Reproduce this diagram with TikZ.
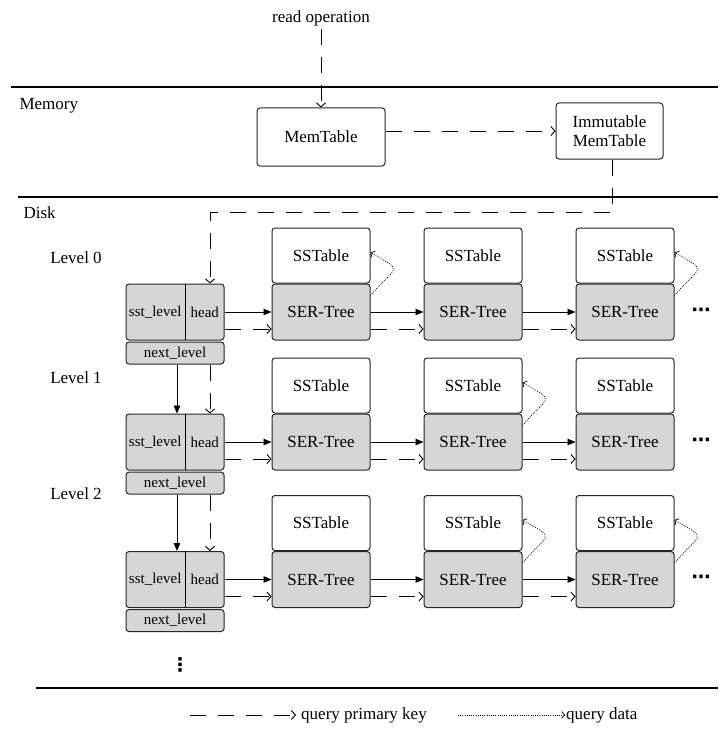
\documentclass[tikz,border=0pt]{standalone}
\usepackage{fontspec}
\setmainfont{Liberation Serif}
\newfontfamily\dotsfont{DejaVu Sans}
\usetikzlibrary{arrows.meta,positioning}

\begin{document}
\begin{tikzpicture}[
  x=1pt,y=-1pt,
  font=\fontsize{17}{19}\selectfont,
  node distance=0pt and 53pt,
  tablebox/.style={rectangle,rounded corners=3pt,draw=black!85,line width=1pt,fill=white,
              minimum width=98pt,minimum height=55pt,inner sep=0pt},
  treebox/.style={tablebox,fill=black!16,minimum height=56pt},
  greybox/.style={rectangle,rounded corners=3pt,draw=black!85,line width=1pt,fill=black!16,
              minimum width=98pt,inner sep=0pt,font=\fontsize{15}{17}\selectfont},
  cell/.style={rectangle,minimum height=56pt,inner sep=0pt,font=\fontsize{15}{17}\selectfont},
  membox/.style={rectangle,rounded corners=3pt,draw=black!85,line width=1pt,align=center,inner sep=0pt},
  dotmark/.style={inner sep=0pt,font=\dotsfont\bfseries\fontsize{19}{19}\selectfont},
  sepline/.style={line width=2.6pt},
  arr/.style={-{Triangle[length=8pt,width=6.5pt]},line width=0.8pt},
  dasharr/.style={-{Straight Barb[length=4pt,width=9pt]},line width=0.9pt,dash pattern=on 16pt off 12pt},
  dotarr/.style={-{Straight Barb[length=3pt,width=7pt]},line width=0.7pt,dash pattern=on 1pt off 1.2pt}
]
  \useasboundingbox (0,0) rectangle (718,733);

  % memory part
  \node (readop) at (321,18) {read operation};
  \draw[sepline] (11,87) -- (718,87);
  \node[anchor=west] (memlbl) at (16,106) {Memory};
  \node[membox,minimum width=128pt,minimum height=58pt] (mem) at (321,137) {MemTable};
  \node[membox,minimum width=107pt,minimum height=56pt] (imm) at (609.5,131) {Immutable\\MemTable};
  \draw[sepline] (18,197) -- (718,197);
  \node[anchor=west] (disklbl) at (20,213) {Disk};

  \draw[dasharr] (readop) -- (mem);
  \draw[dasharr] (mem.east |- imm.west) -- (imm.west);

  % level 0
  \node (lev0) at (76,258) {Level 0};
  \node[tablebox] (sst00) at (321,255.5) {SSTable};
  \node[treebox,below=of sst00] (ser00) {SER-Tree};
  \node[tablebox,right=of sst00] (sst01) {SSTable};
  \node[treebox,below=of sst01] (ser01) {SER-Tree};
  \node[tablebox,right=of sst01] (sst02) {SSTable};
  \node[treebox,below=of sst02] (ser02) {SER-Tree};
  \node[dotmark,right=17pt of ser02] (more0) {⋯};
  \node[greybox,minimum height=56pt,left=47pt of ser00] (lvl0) {};
  \node[cell,anchor=west,minimum width=59pt] (sstlv0) at (lvl0.west) {sst\_level};
  \node[cell,anchor=east,minimum width=39pt] (head0) at (lvl0.east) {head};
  \draw[line width=1.2pt] (head0.north west) -- (head0.south west);
  \node[greybox,minimum height=22pt,below=1pt of lvl0] (nxt0) {next\_level};

  % level 1
  \node (lev1) at (76,378) {Level 1};
  \node[tablebox] (sst10) at (321,385.5) {SSTable};
  \node[treebox,below=of sst10] (ser10) {SER-Tree};
  \node[tablebox,right=of sst10] (sst11) {SSTable};
  \node[treebox,below=of sst11] (ser11) {SER-Tree};
  \node[tablebox,right=of sst11] (sst12) {SSTable};
  \node[treebox,below=of sst12] (ser12) {SER-Tree};
  \node[dotmark,right=17pt of ser12] (more1) {⋯};
  \node[greybox,minimum height=56pt,left=47pt of ser10] (lvl1) {};
  \node[cell,anchor=west,minimum width=59pt] (sstlv1) at (lvl1.west) {sst\_level};
  \node[cell,anchor=east,minimum width=39pt] (head1) at (lvl1.east) {head};
  \draw[line width=1.2pt] (head1.north west) -- (head1.south west);
  \node[greybox,minimum height=22pt,below=1pt of lvl1] (nxt1) {next\_level};

  % level 2
  \node (lev2) at (76,494) {Level 2};
  \node[tablebox] (sst20) at (321,523) {SSTable};
  \node[treebox,below=of sst20] (ser20) {SER-Tree};
  \node[tablebox,right=of sst20] (sst21) {SSTable};
  \node[treebox,below=of sst21] (ser21) {SER-Tree};
  \node[tablebox,right=of sst21] (sst22) {SSTable};
  \node[treebox,below=of sst22] (ser22) {SER-Tree};
  \node[dotmark,right=17pt of ser22] (more2) {⋯};
  \node[greybox,minimum height=56pt,left=47pt of ser20] (lvl2) {};
  \node[cell,anchor=west,minimum width=59pt] (sstlv2) at (lvl2.west) {sst\_level};
  \node[cell,anchor=east,minimum width=39pt] (head2) at (lvl2.east) {head};
  \draw[line width=1.2pt] (head2.north west) -- (head2.south west);
  \node[greybox,minimum height=22pt,below=1pt of lvl2] (nxt2) {next\_level};

  \node[dotmark] (vdots) at (180,665) {⋮};
  \draw[sepline] (36,688) -- (718,688);

  % into disk
  \draw[dasharr] ([xshift=3pt]imm.south) -- ++(0,53) -| ([xshift=35pt]lvl0.north);

  % chains
  \draw[arr] (head0) -- (ser00);
  \draw[arr] (ser00) -- (ser01);
  \draw[arr] (ser01) -- (ser02);
  \draw[dasharr] ([yshift=-17pt]head0.east) -- ([yshift=-17pt]ser00.west);
  \draw[dasharr] ([yshift=-17pt]ser00.east) -- ([yshift=-17pt]ser01.west);
  \draw[dasharr] ([yshift=-17pt]ser01.east) -- ([yshift=-17pt]ser02.west);
  \draw[arr] (head1) -- (ser10);
  \draw[arr] (ser10) -- (ser11);
  \draw[arr] (ser11) -- (ser12);
  \draw[dasharr] ([yshift=-17pt]head1.east) -- ([yshift=-17pt]ser10.west);
  \draw[dasharr] ([yshift=-17pt]ser10.east) -- ([yshift=-17pt]ser11.west);
  \draw[dasharr] ([yshift=-17pt]ser11.east) -- ([yshift=-17pt]ser12.west);
  \draw[arr] (head2) -- (ser20);
  \draw[arr] (ser20) -- (ser21);
  \draw[arr] (ser21) -- (ser22);
  \draw[dasharr] ([yshift=-17pt]head2.east) -- ([yshift=-17pt]ser20.west);
  \draw[dasharr] ([yshift=-17pt]ser20.east) -- ([yshift=-17pt]ser21.west);
  \draw[dasharr] ([yshift=-17pt]ser21.east) -- ([yshift=-17pt]ser22.west);

  % between levels
  \draw[arr] ([xshift=2pt]nxt0.south) -- ([xshift=2pt]lvl1.north);
  \draw[dasharr] ([xshift=35pt]nxt0.south) -- ([xshift=35pt]lvl1.north);
  \draw[arr] ([xshift=2pt]nxt1.south) -- ([xshift=2pt]lvl2.north);
  \draw[dasharr] ([xshift=35pt]nxt1.south) -- ([xshift=35pt]lvl2.north);

  % query data
  \draw[dotarr] ([yshift=-12pt]ser00.north east) to[out=50,in=-30,looseness=2.4] ([yshift=3pt]sst00.east);
  \draw[dotarr] ([yshift=-12pt]ser02.north east) to[out=50,in=-30,looseness=2.4] ([yshift=3pt]sst02.east);
  \draw[dotarr] ([yshift=-12pt]ser11.north east) to[out=50,in=-30,looseness=2.4] ([yshift=3pt]sst11.east);
  \draw[dotarr] ([yshift=-12pt]ser21.north east) to[out=50,in=-30,looseness=2.4] ([yshift=3pt]sst21.east);
  \draw[dotarr] ([yshift=-12pt]ser22.north east) to[out=50,in=-30,looseness=2.4] ([yshift=3pt]sst22.east);

  % legend
  \coordinate (pkstart) at (190,715);
  \node[anchor=west,inner sep=5pt] (pktext) at (296,715) {query primary key};
  \draw[dasharr] (pkstart) -- (pktext.west);
  \coordinate (qdstart) at (458,715);
  \node[anchor=west,inner sep=1pt] (qdtext) at (565,715) {query data};
  \draw[dotarr] (qdstart) -- (qdtext.west);
\end{tikzpicture}
\end{document}
